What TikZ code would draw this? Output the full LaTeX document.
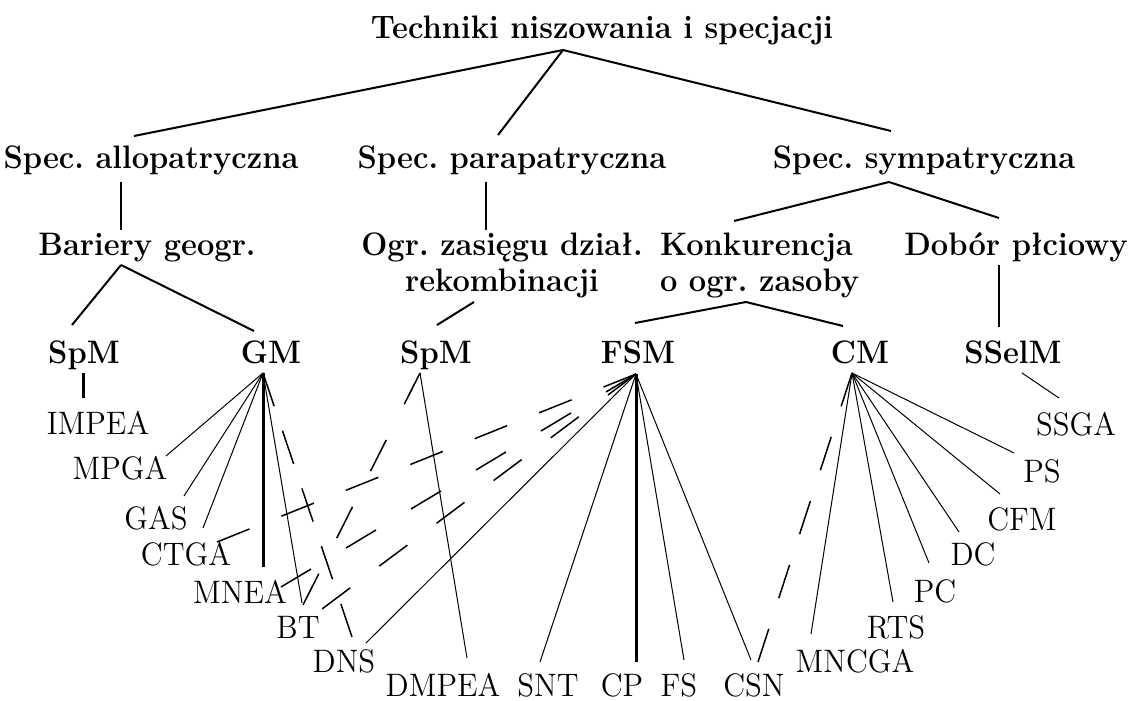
\documentclass[tikz,border=0pt]{standalone}
\usepackage{fontspec}
\setmainfont{Latin Modern Roman}[FakeStretch=0.95]
\begin{document}
\begin{tikzpicture}[x=0.4pt,y=-0.4pt,
  every node/.style={inner sep=0pt, outer sep=0pt, font=\fontsize{13}{14.4}\selectfont\frenchspacing},
  hd/.style={font=\fontsize{13}{14.4}\selectfont\frenchspacing\bfseries, anchor=base},
  lf/.style={anchor=base},
  tree/.style={line width=0.8pt},
  leaf/.style={line width=0.4pt},
  heavy/.style={line width=1.2pt},
  dsh/.style={line width=0.6pt, dash pattern=on 14pt off #1}
]
\useasboundingbox (0,0) rectangle (1133,700);

% ---- headings
\node[hd] (title) at (602,38) {Techniki niszowania i specjacji};
\node[hd] (allo) at (151,168) {Spec. allopatryczna};
\node[hd] (para) at (512,168) {Spec. parapatryczna};
\node[hd] (symp) at (924,168) {Spec. sympatryczna};
\node[hd] (bar) at (147,255) {Bariery geogr.};
\node[hd, anchor=north, align=center] (ogr) at (502,233) {Ogr. zasięgu dział.\\rekombinacji};
\node[hd, anchor=north west, align=left] (kon) at (660,233) {Konkurencja\\o ogr. zasoby};
\node[hd] (dob) at (1016,255) {Dobór płciowy};

% ---- methods
\node[hd] (spma) at (84,363) {SpM};
\node[hd] (gm) at (271,363) {GM};
\node[hd] (spmb) at (436,363) {SpM};
\node[hd] (fsm) at (638,363) {FSM};
\node[hd] (cm) at (860,363) {CM};
\node[hd] (ssel) at (1013,363) {SSelM};

% ---- leaves
\node[lf] (impea) at (98,434) {IMPEA};
\node[lf] (mpga) at (120,479) {MPGA};
\node[lf] (gas) at (156,529) {GAS};
\node[lf] (ctga) at (186,565) {CTGA};
\node[lf] (mnea) at (240,603) {MNEA};
\node[lf] (bt) at (298,638) {BT};
\node[lf] (dns) at (344,672) {DNS};
\node[lf] (dmpea) at (443,696) {DMPEA};
\node[lf] (snt) at (548,696) {SNT};
\node[lf] (cp) at (622,696) {CP};
\node[lf] (fs) at (679,696) {FS};
\node[lf] (csn) at (754,696) {CSN};
\node[lf] (mncga) at (855,672) {MNCGA};
\node[lf] (rts) at (896,638) {RTS};
\node[lf] (pc) at (935,602) {PC};
\node[lf] (dc) at (973,565) {DC};
\node[lf] (cfm) at (1022,530) {CFM};
\node[lf] (ps) at (1042,482) {PS};
\node[lf] (ssga) at (1076,435) {SSGA};

% ---- connection points
\coordinate (title-b) at (563,50);
\coordinate (allo-t) at (134,136);
\coordinate (para-t) at (498,135);
\coordinate (symp-t) at (891,131);
\coordinate (allo-b) at (121,182);
\coordinate (bar-t) at (121,230);
\coordinate (para-b) at (486,182);
\coordinate (ogr-t) at (486,230);
\coordinate (symp-b) at (889,182);
\coordinate (kon-t) at (734,221);
\coordinate (dob-t) at (999,218);
\coordinate (bar-b) at (121,265);
\coordinate (spma-t) at (72,325);
\coordinate (gm-t) at (254,331);
\coordinate (ogr-b) at (474,302);
\coordinate (spmb-t) at (437,325);
\coordinate (kon-b) at (746,302);
\coordinate (fsm-t) at (635,323);
\coordinate (cm-t) at (843,326);
\coordinate (dob-b) at (999,265);
\coordinate (ssel-t) at (999,327);

\coordinate (spma-b) at (83,373);
\coordinate (gm-b) at (263,373);
\coordinate (spmb-b) at (420,373);
\coordinate (fsm-b) at (636,374);
\coordinate (cm-b) at (852,373);
\coordinate (ssel-b) at (1022,373);

\coordinate (impea-t) at (83,398);
\coordinate (mpga-t) at (166,456);
\coordinate (gas-t) at (184,496);
\coordinate (ctga-t) at (203,528);
\coordinate (ctga-r) at (217,542);
\coordinate (mnea-t) at (263,567);
\coordinate (mnea-r) at (281,587);
\coordinate (bt-t) at (302,603);
\coordinate (bt-u) at (303,605);
\coordinate (bt-r) at (322,609);
\coordinate (dns-t) at (352,637);
\coordinate (dns-r) at (366,643);
\coordinate (dmpea-t) at (467,658);
\coordinate (snt-t) at (540,662);
\coordinate (cp-t) at (636,662);
\coordinate (fs-t) at (684,660);
\coordinate (csn-t) at (751,660);
\coordinate (csn-r) at (758,662);
\coordinate (mncga-t) at (811,634);
\coordinate (rts-t) at (893,602);
\coordinate (pc-t) at (929,563);
\coordinate (dc-t) at (959,532);
\coordinate (cfm-t) at (1000,494);
\coordinate (ps-t) at (1014,453);
\coordinate (ssga-t) at (1059,398);

% ---- tree edges
\draw[tree] (title-b) -- (allo-t);
\draw[tree] (title-b) -- (para-t);
\draw[tree] (title-b) -- (symp-t);
\draw[tree] (allo-b) -- (bar-t);
\draw[tree] (para-b) -- (ogr-t);
\draw[tree] (symp-b) -- (kon-t);
\draw[tree] (symp-b) -- (dob-t);
\draw[tree] (bar-b) -- (spma-t);
\draw[tree] (bar-b) -- (gm-t);
\draw[tree] (ogr-b) -- (spmb-t);
\draw[tree] (kon-b) -- (fsm-t);
\draw[tree] (kon-b) -- (cm-t);
\draw[tree] (dob-b) -- (ssel-t);

% ---- method to technique links
\draw[heavy] (spma-b) -- (impea-t);
\draw[leaf] (gm-b) -- (mpga-t);
\draw[leaf] (gm-b) -- (gas-t);
\draw[leaf] (gm-b) -- (ctga-t);
\draw[heavy] (gm-b) -- (mnea-t);
\draw[leaf] (gm-b) -- (bt-t);
\draw[dsh=10.36pt] (gm-b) -- (dns-t);
\draw[dsh=15.97pt] (spmb-b) -- (bt-u);
\draw[leaf] (spmb-b) -- (dmpea-t);
\draw[dsh=13.76pt] (fsm-b) -- (ctga-r);
\draw[dsh=16.32pt] (fsm-b) -- (mnea-r);
\draw[dsh=14.56pt] (fsm-b) -- (bt-r);
\draw[leaf] (fsm-b) -- (dns-r);
\draw[leaf] (fsm-b) -- (snt-t);
\draw[heavy] (fsm-b) -- (cp-t);
\draw[leaf] (fsm-b) -- (fs-t);
\draw[leaf] (fsm-b) -- (csn-t);
\draw[dsh=12.9pt] (cm-b) -- (csn-r);
\draw[leaf] (cm-b) -- (mncga-t);
\draw[leaf] (cm-b) -- (rts-t);
\draw[leaf] (cm-b) -- (pc-t);
\draw[leaf] (cm-b) -- (dc-t);
\draw[leaf] (cm-b) -- (cfm-t);
\draw[leaf] (cm-b) -- (ps-t);
\draw[leaf] (ssel-b) -- (ssga-t);
\end{tikzpicture}
\end{document}
